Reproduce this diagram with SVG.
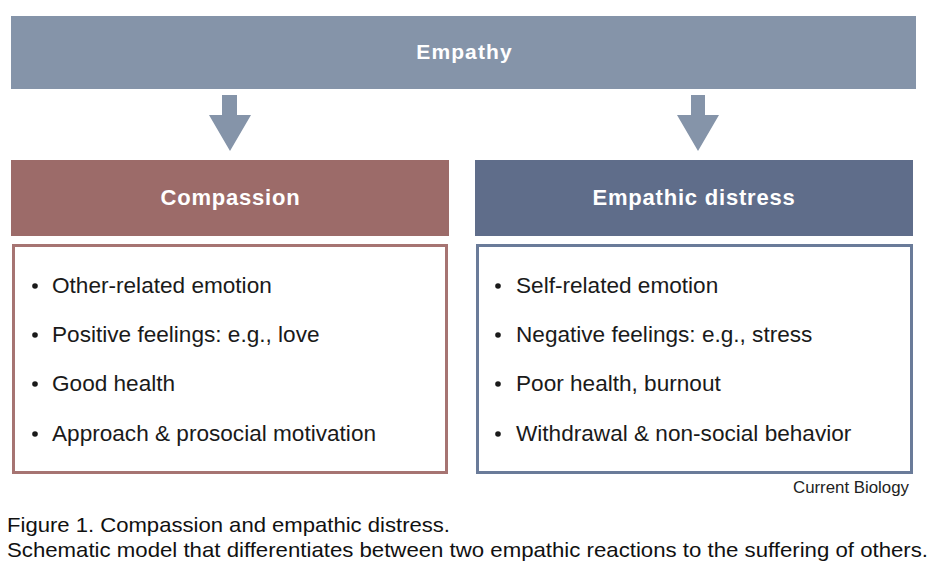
<svg xmlns="http://www.w3.org/2000/svg" width="936" height="574" viewBox="0 0 936 574">
<style>
.hd{font-family:"Liberation Sans",Arial,sans-serif;font-weight:bold;fill:#ffffff;text-anchor:middle}
.it{font-family:"Liberation Sans",Arial,sans-serif;font-size:22.6px;fill:#1a1a1a}
.cap{font-family:"Liberation Sans",Arial,sans-serif;font-size:21px;fill:#111111}
.arrow{fill:#8594a9}
.dot{fill:#1a1a1a}
</style>
<rect width="936" height="574" fill="#ffffff"/>
<g id="empathy">
<rect x="11" y="16" width="905" height="73" fill="#8594a9"/>
<text class="hd" x="464.5" y="59" font-size="21" letter-spacing="1.1">Empathy</text>
</g>
<g id="connectors">
<polygon class="arrow" points="222,95 237,95 237,115 251,115 230,151 209,115 222,115"/>
<polygon class="arrow" points="691,95 705,95 705,115 719,115 698,151 677,115 691,115"/>
</g>
<g id="compassion">
<rect x="11" y="160" width="438" height="76" fill="#9c6b69"/>
<text class="hd" x="230.5" y="205" font-size="22" letter-spacing="0.8">Compassion</text>
<rect x="13.5" y="245.5" width="433" height="227" fill="#ffffff" stroke="#a67472" stroke-width="3"/>
<circle class="dot" cx="35" cy="286" r="2.8"/>
<circle class="dot" cx="35" cy="335" r="2.8"/>
<circle class="dot" cx="35" cy="384" r="2.8"/>
<circle class="dot" cx="35" cy="434" r="2.8"/>
<text class="it" x="52" y="293">Other-related emotion</text>
<text class="it" x="52" y="342">Positive feelings: e.g., love</text>
<text class="it" x="52" y="391">Good health</text>
<text class="it" x="52" y="441">Approach &amp; prosocial motivation</text>
</g>
<g id="distress">
<rect x="475" y="160" width="438" height="76" fill="#5f6d8a"/>
<text class="hd" x="694" y="205" font-size="22" letter-spacing="0.8">Empathic distress</text>
<rect x="477.5" y="245.5" width="434" height="227" fill="#ffffff" stroke="#6a7b99" stroke-width="3"/>
<circle class="dot" cx="498" cy="286" r="2.8"/>
<circle class="dot" cx="498" cy="335" r="2.8"/>
<circle class="dot" cx="498" cy="384" r="2.8"/>
<circle class="dot" cx="498" cy="434" r="2.8"/>
<text class="it" x="516" y="293">Self-related emotion</text>
<text class="it" x="516" y="342">Negative feelings: e.g., stress</text>
<text class="it" x="516" y="391">Poor health, burnout</text>
<text class="it" x="516" y="441">Withdrawal &amp; non-social behavior</text>
</g>
<g id="caption">
<text x="909" y="493" font-family="'Liberation Sans',Arial,sans-serif" font-size="16" fill="#222222" text-anchor="end" textLength="116" lengthAdjust="spacingAndGlyphs">Current Biology</text>
<text class="cap" x="7" y="532" textLength="443" lengthAdjust="spacingAndGlyphs">Figure 1. Compassion and empathic distress.</text>
<text class="cap" x="7" y="557" textLength="921" lengthAdjust="spacingAndGlyphs">Schematic model that differentiates between two empathic reactions to the suffering of others.</text>
</g>
</svg>
